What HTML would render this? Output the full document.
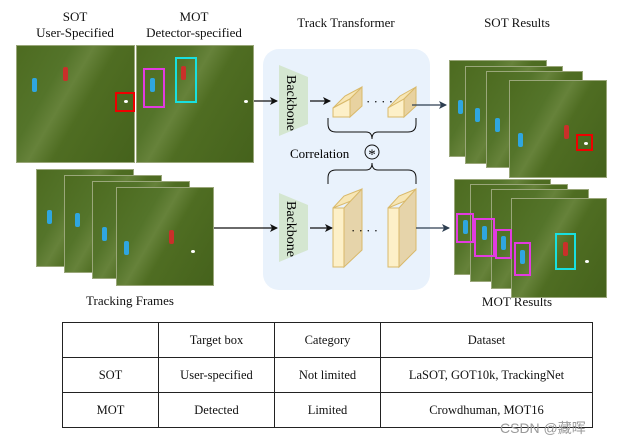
<!DOCTYPE html>
<html><head><meta charset="utf-8"><style>
body{margin:0;width:621px;height:446px;background:#fff;position:relative;overflow:hidden;font-family:"Liberation Serif",serif;color:#111}
.a{position:absolute}
.fr{position:absolute;background:linear-gradient(120deg,#4d6b20 0%,#54742a 30%,#66823a 42%,#4f6d22 55%,#45621c 100%);border:1px solid #9aa77a;box-sizing:border-box;overflow:hidden}
.t{position:absolute;font-size:13px;white-space:nowrap;transform:translateX(-50%)}
.b{position:absolute;box-sizing:border-box;border:2px solid}
.p{position:absolute;width:5px;height:14px;background:#2fa6e0;border-radius:2px}
.r{position:absolute;width:5px;height:14px;background:#c9302a;border-radius:2px}
.ball{position:absolute;width:4px;height:3px;background:#fff;border-radius:50%}
table{position:absolute;left:62px;top:322px;border-collapse:collapse;font-size:12.5px}
td{border:1px solid #222;text-align:center;height:34px;padding:0}
</style></head><body>
<div class="t" style="left:75px;top:9px">SOT</div>
<div class="t" style="left:75px;top:25px">User-Specified</div>
<div class="t" style="left:194px;top:9px">MOT</div>
<div class="t" style="left:194px;top:25px">Detector-specified</div>
<div class="t" style="left:346px;top:15px">Track Transformer</div>
<div class="t" style="left:517px;top:15px">SOT Results</div>
<div class="t" style="left:130px;top:293px">Tracking Frames</div>
<div class="t" style="left:517px;top:294px">MOT Results</div>

<div class="fr" style="left:16px;top:45px;width:119px;height:118px"></div>
<div class="fr" style="left:136px;top:45px;width:118px;height:118px"></div>
<div class="p" style="left:32px;top:78px"></div><div class="r" style="left:63px;top:67px"></div>
<div class="b" style="left:115px;top:92px;width:20px;height:20px;border-color:#e00"></div><div class="ball" style="left:124px;top:100px"></div>
<div class="p" style="left:150px;top:78px"></div><div class="r" style="left:181px;top:66px"></div>
<div class="b" style="left:143px;top:68px;width:22px;height:40px;border-color:#e23be0"></div>
<div class="b" style="left:175px;top:57px;width:22px;height:46px;border-color:#18e0e0"></div>
<div class="ball" style="left:244px;top:100px"></div>

<div class="fr" style="left:36px;top:169px;width:98px;height:98px"></div>
<div class="fr" style="left:64px;top:175px;width:98px;height:98px"></div>
<div class="fr" style="left:92px;top:181px;width:98px;height:98px"></div>
<div class="fr" style="left:116px;top:187px;width:98px;height:99px"></div>
<div class="p" style="left:47px;top:210px"></div><div class="p" style="left:75px;top:213px"></div><div class="p" style="left:102px;top:227px"></div><div class="p" style="left:124px;top:241px"></div><div class="r" style="left:169px;top:230px"></div><div class="ball" style="left:191px;top:250px"></div>

<div class="a" style="left:263px;top:49px;width:167px;height:241px;background:#e9f2fc;border-radius:16px"></div>

<svg class="a" style="left:0;top:0" width="621" height="446">
<defs><marker id="ar" markerWidth="8" markerHeight="8" refX="7" refY="4" orient="auto" markerUnits="userSpaceOnUse"><path d="M0,0 L8,4 L0,8 L2,4z" fill="#111"/></marker>
<marker id="ar2" markerWidth="8" markerHeight="8" refX="7" refY="4" orient="auto" markerUnits="userSpaceOnUse"><path d="M0,0 L8,4 L0,8 L2,4z" fill="#2d3e50"/></marker></defs>
<polygon points="279,65 308,77 308,124 279,136" fill="#d4e6d0"/>
<polygon points="279,193 308,205 308,250 279,262" fill="#d4e6d0"/>
<text transform="translate(287,75) rotate(90)" font-size="14" font-family="Liberation Serif">Backbone</text>
<text transform="translate(287,201) rotate(90)" font-size="14" font-family="Liberation Serif">Backbone</text>
<line x1="254" y1="101" x2="277" y2="101" stroke="#111" stroke-width="1.3" marker-end="url(#ar)"/>
<line x1="214" y1="228" x2="277" y2="228" stroke="#111" stroke-width="1.3" marker-end="url(#ar)"/>
<line x1="310" y1="101" x2="330" y2="101" stroke="#111" stroke-width="1.3" marker-end="url(#ar)"/>
<line x1="310" y1="228" x2="332" y2="228" stroke="#111" stroke-width="1.3" marker-end="url(#ar)"/>
<g stroke="#d9b96a" stroke-width="1">
<polygon points="333,108 345,96 362,87 350,99" fill="#f7e6b5"/>
<polygon points="350,99 362,87 362,106 350,117" fill="#e8d2a0"/>
<polygon points="333,108 350,99 350,117 333,117" fill="#fdf0c8"/>
<polygon points="388,108 400,96 416,87 404,99" fill="#f7e6b5"/>
<polygon points="404,99 416,87 416,106 404,117" fill="#e8d2a0"/>
<polygon points="388,108 404,99 404,117 388,117" fill="#fdf0c8"/>
<polygon points="333,208 344,196 362,189 351,201" fill="#f7e6b5"/>
<polygon points="344,208 362,189 362,250 344,267" fill="#e6d4aa"/>
<rect x="333" y="208" width="11" height="59" fill="#fdf0c8"/>
<polygon points="388,208 399,196 416,189 405,201" fill="#f7e6b5"/>
<polygon points="399,208 416,189 416,250 399,267" fill="#e6d4aa"/>
<rect x="388" y="208" width="11" height="59" fill="#fdf0c8"/>
</g>
<text x="366" y="106" font-size="13">· · · ·</text>
<text x="351" y="235" font-size="13">· · · ·</text>
<path d="M328,118 v6 q0,8 8,8 h30 q6,0 6,7 q0,-7 6,-7 h30 q8,0 8,-8 v-6" fill="none" stroke="#111" stroke-width="1"/>
<path d="M328,184 v-6 q0,-8 8,-8 h30 q6,0 6,-7 q0,7 6,7 h30 q8,0 8,8 v6" fill="none" stroke="#111" stroke-width="1"/>
<circle cx="372" cy="152" r="7" fill="none" stroke="#111" stroke-width="1"/>
<text x="372" y="159" font-size="15" text-anchor="middle">*</text>
<text x="290" y="158" font-size="13" font-family="Liberation Serif">Correlation</text>
<line x1="412" y1="105" x2="446" y2="105" stroke="#2d3e50" stroke-width="1.3" marker-end="url(#ar2)"/>
<line x1="416" y1="228" x2="449" y2="228" stroke="#2d3e50" stroke-width="1.3" marker-end="url(#ar2)"/>
</svg>

<div class="fr" style="left:449px;top:60px;width:98px;height:97px"></div>
<div class="fr" style="left:465px;top:66px;width:98px;height:98px"></div>
<div class="fr" style="left:486px;top:71px;width:97px;height:97px"></div>
<div class="fr" style="left:509px;top:80px;width:98px;height:98px"></div>
<div class="p" style="left:458px;top:100px"></div><div class="p" style="left:475px;top:108px"></div><div class="p" style="left:495px;top:118px"></div><div class="p" style="left:518px;top:133px"></div><div class="r" style="left:564px;top:125px"></div>
<div class="b" style="left:576px;top:134px;width:17px;height:17px;border-color:#e00"></div><div class="ball" style="left:584px;top:142px"></div>

<div class="fr" style="left:454px;top:179px;width:97px;height:96px"></div>
<div class="fr" style="left:470px;top:184px;width:98px;height:98px"></div>
<div class="fr" style="left:491px;top:189px;width:98px;height:100px"></div>
<div class="fr" style="left:511px;top:198px;width:96px;height:100px"></div>
<div class="b" style="left:456px;top:213px;width:18px;height:30px;border-color:#e23be0"></div>
<div class="b" style="left:474px;top:218px;width:21px;height:39px;border-color:#e23be0"></div>
<div class="b" style="left:495px;top:229px;width:17px;height:30px;border-color:#e23be0"></div>
<div class="b" style="left:514px;top:242px;width:17px;height:34px;border-color:#e23be0"></div>
<div class="b" style="left:555px;top:233px;width:21px;height:37px;border-color:#18e0e0"></div>
<div class="p" style="left:463px;top:220px"></div><div class="p" style="left:482px;top:226px"></div><div class="p" style="left:501px;top:236px"></div><div class="p" style="left:520px;top:250px"></div><div class="r" style="left:563px;top:242px"></div><div class="ball" style="left:585px;top:260px"></div>

<table>
<tr><td style="width:95px"></td><td style="width:115px">Target box</td><td style="width:105px">Category</td><td style="width:211px">Dataset</td></tr>
<tr><td>SOT</td><td>User-specified</td><td>Not limited</td><td>LaSOT, GOT10k, TrackingNet</td></tr>
<tr><td>MOT</td><td>Detected</td><td>Limited</td><td>Crowdhuman, MOT16</td></tr>
</table>
<div class="a" style="left:500px;top:418px;font-family:'Liberation Sans','Noto Sans CJK SC',sans-serif;font-size:14px;color:#9a9a9a">CSDN @藏晖</div>
</body></html>
